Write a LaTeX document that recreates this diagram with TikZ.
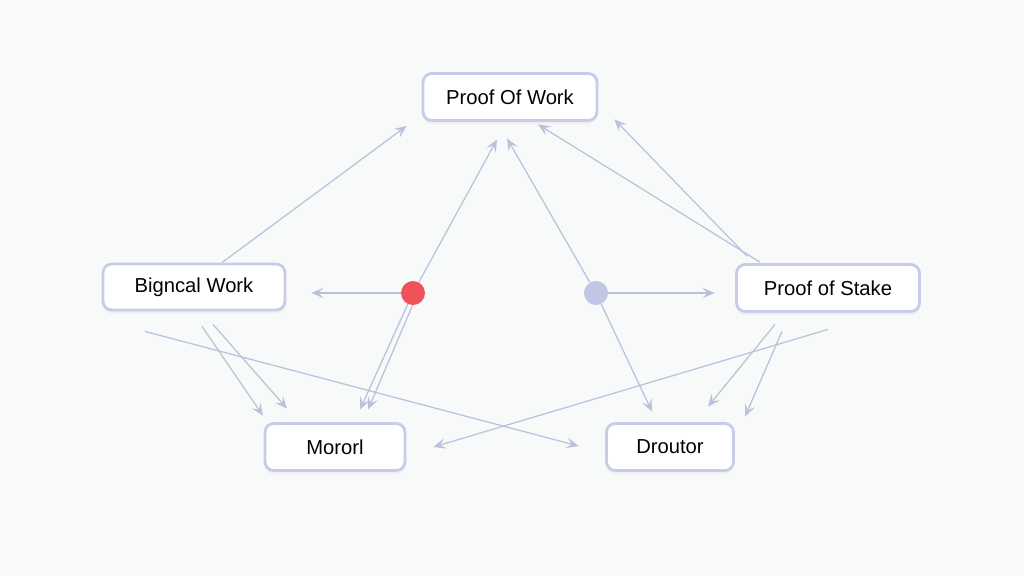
\documentclass[tikz,border=0pt]{standalone}
\usepackage{fontspec}
\setmainfont{Liberation Sans}
\usepackage{xcolor}
\usetikzlibrary{arrows.meta,positioning,shadows,backgrounds}

\definecolor{bgcol}{HTML}{F8F9F9}
\definecolor{boxline}{HTML}{C9CCE6}
\definecolor{linkcol}{HTML}{BCC0DC}
\definecolor{reddot}{HTML}{EF535A}
\definecolor{bluedot}{HTML}{C0C6E4}

\begin{document}
\begin{tikzpicture}[x=0.02cm,y=-0.02cm,
    stagebox/.style={draw=boxline, line width=1.6pt, rounded corners=5pt, fill=white,
        inner sep=0pt, font=\fontsize{11.5}{13}\selectfont,
        drop shadow={opacity=0.07, shadow xshift=0pt, shadow yshift=-2pt}},
    dot/.style={circle, inner sep=0pt, minimum size=0.48cm},
    link/.style={draw=linkcol, line width=0.7pt,
        -{Stealth[length=7pt, width=6pt, inset=3pt]}}]

\useasboundingbox (0,0) rectangle (1024,576);

%% boxes
\node[stagebox, minimum width=3.48cm, minimum height=0.94cm] (pow) at (510,97) {Proof Of Work};
\node[stagebox, minimum width=3.64cm, minimum height=0.92cm] (bigw) at (194,287) {Bigncal Work};
\node[stagebox, minimum width=3.66cm, minimum height=0.94cm] (pos) at (828,288) {Proof of Stake};
\node[stagebox, minimum width=2.80cm, minimum height=0.94cm] (morl) at (335,447) {Mororl};
\node[stagebox, minimum width=2.54cm, minimum height=0.94cm] (drout) at (670,447) {Droutor};

% the two dots
\node[dot, fill=reddot] (rdot) at (413,293) {};
\node[dot, fill=bluedot] (bdot) at (596,293) {};

\begin{scope}[on background layer]
\fill[bgcol] (0,0) rectangle (1024,576);

% up to Proof Of Work
\draw[link] ([shift={(28,0)}]bigw.north) -- ([shift={(-15,4)}]pow.south west);
\draw[link] (rdot) -- ([shift={(-13,17.5)}]pow.south);
\draw[link] (bdot) -- ([shift={(-3,16.5)}]pow.south);
\draw[link] ([shift={(-68,-1)}]pos.north) -- ([shift={(28,2.5)}]pow.south);
\draw[link] ([shift={(-81,-7)}]pos.north) -- ([shift={(16,-2.5)}]pow.south east);

% sideways from the dots
\draw[link] (rdot) -- ([shift={(25,6)}]bigw.east);
\draw[link] (bdot) -- ([shift={(-20.5,5)}]pos.west);

% down to Mororl
\draw[link] (rdot.245) -- ([shift={(25,-12.5)}]morl.north);
\draw[link] (rdot.268) -- ([shift={(33,-12.5)}]morl.north);
\draw[link] ([shift={(8,15)}]bigw.south) -- ([shift={(-72,-6.5)}]morl.north);
\draw[link] ([shift={(19,13)}]bigw.south) -- ([shift={(-48,-13.5)}]morl.north);
\draw[link] ([shift={(0,16.5)}]pos.south) -- ([shift={(27,0)}]morl.east);

% down to Droutor
\draw[link] (bdot) -- ([shift={(-18,-10.5)}]drout.north);
\draw[link] ([shift={(-49,20)}]bigw.south) -- ([shift={(-26.5,-1)}]drout.west);
\draw[link] ([shift={(-53,11.5)}]pos.south) -- ([shift={(38,-15.5)}]drout.north);
\draw[link] ([shift={(-46,18.5)}]pos.south) -- ([shift={(75,-5.5)}]drout.north);
\end{scope}

\end{tikzpicture}
\end{document}
